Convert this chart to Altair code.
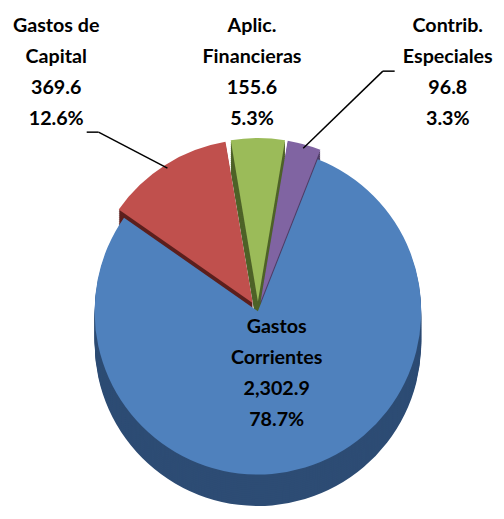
import math
import altair as alt
import pandas as pd

# ---- data ----
names = ["Aplic. Financieras", "Contrib. Especiales", "Gastos Corrientes", "Gastos de Capital"]
name_line1 = ["Aplic.", "Contrib.", "Gastos", "Gastos de"]
name_line2 = ["Financieras", "Especiales", "Corrientes", "Capital"]
amounts = [155.6, 96.8, 2302.9, 369.6]
amount_labels = ["155.6", "96.8", "2,302.9", "369.6"]
share_labels = ["5.3%", "3.3%", "78.7%", "12.6%"]

top_colors = ["#9bbb59", "#8064a2", "#4f81bd", "#c0504d"]
side_colors = ["#4f6329", "#4e3d66", "#2d4c74", "#5c1f1d"]

# ---- layout constants (style) ----
W, H = 496, 511
CX, CY, R = 254, 304, 166
DEPTH = 32
EXPLODE = 10
INNER_NAME = "Gastos Corrientes"
R_IN = 66
L_LEFT, L_RIGHT = 49, 447
LH = 31.5
LABEL_Y = 14          # first line of the outer labels
START = -math.pi * amounts[0] / sum(amounts)

df = pd.DataFrame({
    "name": names,
    "order": list(range(len(names))),
    "amount": amounts,
    "label": [f"{a}\n{b}\n{c}\n{d}" for a, b, c, d in zip(name_line1, name_line2, amount_labels, share_labels)],
})

base = (
    alt.Chart(df)
    .transform_window(cum="sum(amount)", sort=[alt.SortField("order")], frame=[None, 0])
    .transform_joinaggregate(total="sum(amount)")
    .transform_calculate(t1=f"{START} + 2*PI*datum.cum/datum.total")
    .transform_calculate(t0="datum.t1 - 2*PI*datum.amount/datum.total")
    .transform_calculate(mid="(datum.t0 + datum.t1)/2")
    .transform_calculate(ex=f"datum.name == '{INNER_NAME}' ? 0 : {EXPLODE}")
    .transform_calculate(
        cx=f"{CX} + datum.ex*sin(datum.mid)",
        cy=f"{CY} - datum.ex*cos(datum.mid)",
    )
)

theta_enc = dict(
    theta=alt.Theta("t0:Q", scale=None, stack=None),
    theta2=alt.Theta2("t1:Q"),
)

layers = []
for d in range(DEPTH, 0, -2):
    layers.append(
        base.transform_calculate(cyd=f"datum.cy + {d}")
        .mark_arc(radius=R)
        .encode(
            x=alt.X("cx:Q", scale=None),
            y=alt.Y("cyd:Q", scale=None),
            color=alt.Color("name:N", scale=alt.Scale(domain=names, range=side_colors), legend=None),
            **theta_enc,
        )
    )

top = base.mark_arc(radius=R).encode(
    x=alt.X("cx:Q", scale=None),
    y=alt.Y("cy:Q", scale=None),
    color=alt.Color("name:N", scale=alt.Scale(domain=names, range=top_colors), legend=None),
    **theta_enc,
)
layers.append(top)

outer = (
    base.transform_filter(f"datum.name != '{INNER_NAME}'")
    .transform_calculate(smid="datum.mid > PI ? datum.mid - 2*PI : datum.mid")
    .transform_window(rk="rank()", sort=[alt.SortField("smid")])
    .transform_joinaggregate(n="count()")
    .transform_calculate(lx=f"{L_LEFT} + (datum.rk - 1)*({L_RIGHT} - {L_LEFT})/(datum.n - 1)")
    .transform_calculate(
        px_=f"datum.cx + {R - 4}*sin(datum.mid)",
        py_=f"datum.cy - {R - 4}*cos(datum.mid)",
    )
)

leaders = (
    outer.transform_filter("abs(datum.px_ - datum.lx) > 30")
    .transform_calculate(dir="datum.px_ > datum.lx ? 1 : -1")
    .transform_calculate(
        ax="datum.lx + datum.dir*(datum.dir > 0 ? 31 : 54)",
        ly="datum.dir > 0 ? 122 : 60",
    )
    .transform_calculate(bx="datum.ax + datum.dir*12")
)
tick = leaders.mark_rule(color="black", strokeWidth=1.5).encode(
    x=alt.X("ax:Q", scale=None), x2="bx:Q",
    y=alt.Y("ly:Q", scale=None), y2="ly:Q",
)
diag = leaders.mark_rule(color="black", strokeWidth=1.5).encode(
    x=alt.X("bx:Q", scale=None), x2="px_:Q",
    y=alt.Y("ly:Q", scale=None), y2="py_:Q",
)
layers += [tick, diag]

text_style = dict(font="Lato", fontSize=20, fontWeight="bold", lineBreak="\n",
                  lineHeight=LH, align="center", baseline="middle", color="black")

outer_text = outer.mark_text(**text_style).encode(
    x=alt.X("lx:Q", scale=None),
    y=alt.value(LABEL_Y),
    text="label:N",
)
inner_text = (
    base.transform_filter(f"datum.name == '{INNER_NAME}'")
    .transform_calculate(
        lx=f"datum.cx + {R_IN}*sin(datum.mid)",
        ly=f"datum.cy - {R_IN}*cos(datum.mid) - 1.5*{LH}",
    )
    .mark_text(**text_style)
    .encode(x=alt.X("lx:Q", scale=None), y=alt.Y("ly:Q", scale=None), text="label:N")
)
layers += [outer_text, inner_text]

chart = (
    alt.layer(*layers)
    .resolve_scale(color="independent")
    .properties(width=W, height=H, padding=0, autosize=alt.AutoSizeParams(type="none"))
    .configure_view(stroke=None)
)

chart.save("out.html", embed_options={"renderer": "svg", "actions": False})
